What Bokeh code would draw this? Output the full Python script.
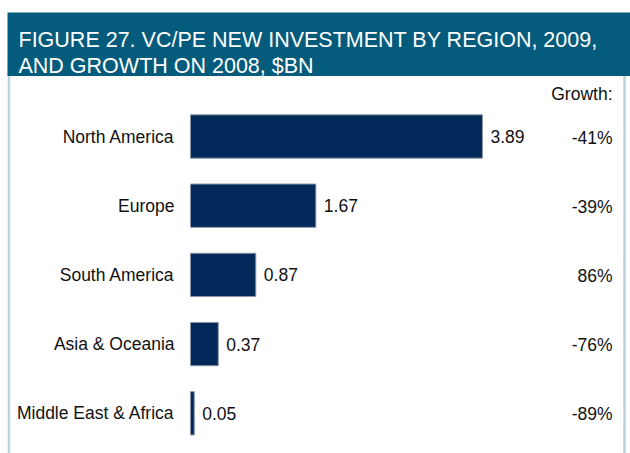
from bokeh.plotting import figure
from bokeh.models import ColumnDataSource, Range1d, Label, BoxAnnotation
from bokeh.core.properties import value
from bokeh.embed import file_html
from bokeh.resources import INLINE

# ---- data ----
categories = ["North America", "Europe", "South America", "Asia & Oceania", "Middle East & Africa"]
investment = [3.89, 1.67, 0.87, 0.37, 0.05]
value_labels = ["3.89", "1.67", "0.87", "0.37", "0.05"]
growth_labels = ["-41%", "-39%", "86%", "-76%", "-89%"]
title_lines = ["FIGURE 27. VC/PE NEW INVESTMENT BY REGION, 2009,", "AND GROWTH ON 2008, $BN"]
growth_header = "Growth:"

# ---- layout ----
W, H = 630, 453
PX_PER_X = 75.06
X0_PX = 190
PX_PER_ROW = 69.2
Y0_PX = 136
x_start = -X0_PX / PX_PER_X
x_end = (W - X0_PX) / PX_PER_X
y_top = -Y0_PX / PX_PER_ROW
y_bottom = (H - Y0_PX) / PX_PER_ROW


def fx(px):
    return x_start + px / PX_PER_X


def fy(py):
    return y_top + py / PX_PER_ROW


FONT_NAME = "Liberation Sans"
FONT = value(FONT_NAME)
GROWTH_X = fx(612)

p = figure(width=W, height=H, x_range=Range1d(x_start, x_end), y_range=Range1d(y_bottom, y_top),
           output_backend="svg", toolbar_location=None, min_border=0,
           x_axis_location=None, y_axis_location=None, outline_line_color=None,
           background_fill_color="white", border_fill_color="white")
p.grid.visible = False

src = ColumnDataSource(dict(
    cat=categories, y=list(range(len(categories))), val=investment,
    vlab=value_labels, growth=growth_labels, gx=[GROWTH_X] * len(categories),
    zero=[0] * len(categories),
))

# panel border
p.add_layout(BoxAnnotation(left=fx(8.5), right=fx(624), top=fy(60), bottom=y_bottom + 1,
                           fill_alpha=0, line_color="#1B6E8F", line_width=2.5))
# title band
p.add_layout(BoxAnnotation(left=fx(7), right=x_end + 1, top=fy(12), bottom=fy(75.5),
                           fill_color="#045B7C", fill_alpha=1, line_color=None))
p.add_layout(Label(x=fx(18), y=fy(39.5), text=title_lines[0], text_color="white",
                   text_font=FONT_NAME, text_font_size="21.5px", text_baseline="alphabetic"))
p.add_layout(Label(x=fx(18), y=fy(65.5), text=title_lines[1], text_color="white",
                   text_font=FONT_NAME, text_font_size="21.5px", text_baseline="alphabetic"))

p.hbar(y="y", left="zero", right="val", height=0.626, source=src,
       fill_color="#03295B", line_color="#8C97A6", line_width=1)

p.text(x="zero", y="y", text="cat", x_offset=-16, text_align="right", text_baseline="middle",
       text_font=FONT, text_font_size="17.5px", text_color="#111111", source=src)
p.text(x="val", y="y", text="vlab", x_offset=8, text_align="left", text_baseline="middle",
       text_font=FONT, text_font_size="17.5px", text_color="#111111", source=src)
p.text(x="gx", y="y", text="growth", y_offset=1, text_align="right", text_baseline="middle",
       text_font=FONT, text_font_size="17.5px", text_color="#111111", source=src)

p.add_layout(Label(x=GROWTH_X, y=fy(93), text=growth_header, text_align="right",
                   text_baseline="middle", text_font=FONT_NAME, text_font_size="17.5px",
                   text_color="#111111"))

open("out.html", "w").write(file_html(p, INLINE))
